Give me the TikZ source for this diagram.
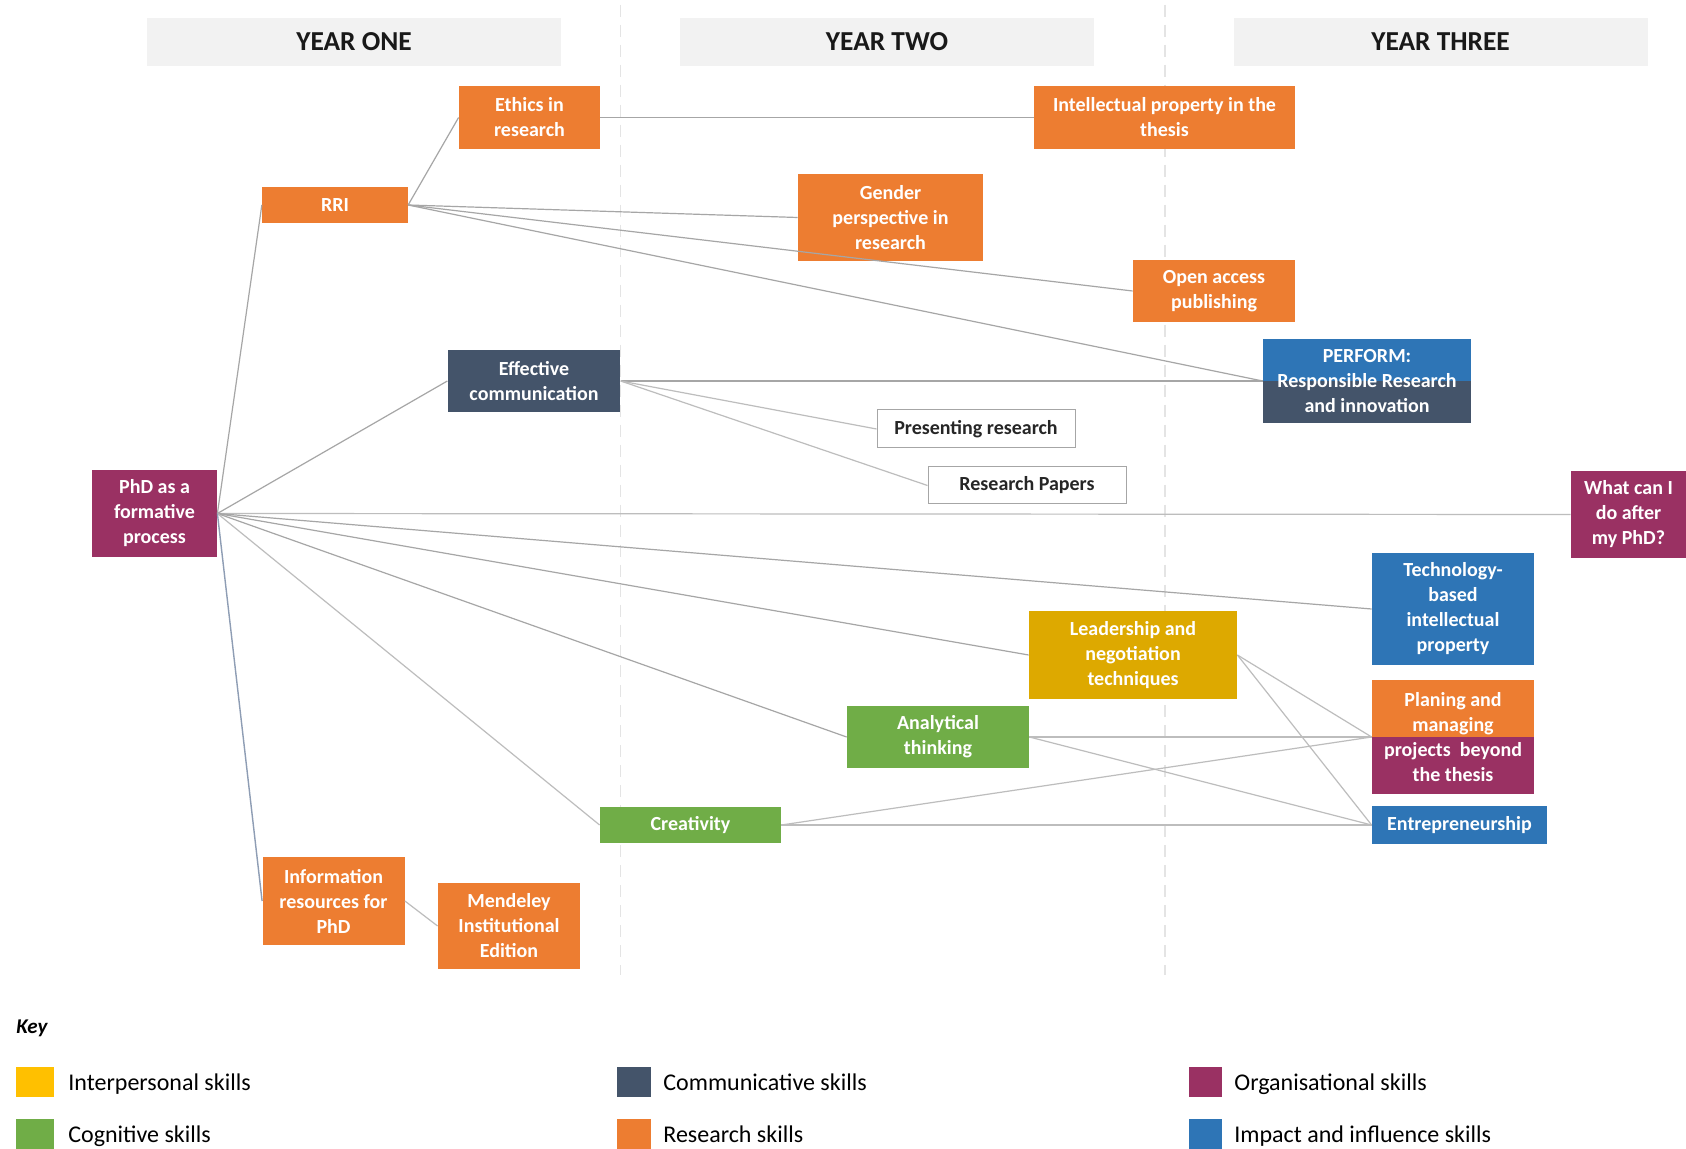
\documentclass[tikz,border=0pt]{standalone}
\usepackage{fontspec}
\setmainfont{Carlito}
\definecolor{orng}{HTML}{ED7D31}
\definecolor{slate}{HTML}{44546A}
\definecolor{plum}{HTML}{9A3163}
\definecolor{perfblue}{HTML}{2E75B6}
\definecolor{grn}{HTML}{70AD47}
\definecolor{gold}{HTML}{DDA900}
\definecolor{legyellow}{HTML}{FFC000}
\definecolor{hdrgray}{HTML}{F2F2F2}
\definecolor{linkgray}{HTML}{A6A6A6}
\definecolor{lightlink}{HTML}{BDBDBD}
\definecolor{bluelink}{HTML}{8E9DB4}
\definecolor{divgray}{HTML}{E4E4E4}
\begin{document}
\begin{tikzpicture}[x=0.5pt,y=-0.5pt,
  sz/.style n args={2}{minimum width=#1pt, minimum height=#2pt},
  box/.style={draw=none, inner sep=0pt, align=center, text=white,
    font=\bfseries\fontsize{10}{12.5}\selectfont},
  whitebox/.style={fill=white, draw=gray!70, line width=0.5pt, text=black!85},
  splitbox/.style 2 args={fill=#2, path picture={\fill[#1] (path picture bounding box.north west) rectangle (path picture bounding box.east);}},
  hdr/.style={fill=hdrgray, inner sep=0pt, minimum width=207pt, minimum height=24pt,
    font=\bfseries\fontsize{13.7}{16}\selectfont, text=black!90},
  link/.style={draw=linkgray, line width=0.6pt},
  lightl/.style={draw=lightlink, line width=0.6pt},
  divider/.style={draw=divgray, line width=0.7pt, dash pattern=on 6pt off 4pt},
  legsq/.style={inner sep=0pt, draw=none},
  legtxt/.style={anchor=base west, inner sep=0pt, font=\fontsize{12}{14}\selectfont, text=black}
]
\useasboundingbox (0,0) rectangle (1686,1149);
\fill[white] (0,0) rectangle (1686,1149);

% column dividers
\draw[divider] (620.5,5) -- (620.5,975);
\draw[divider] (1165,5) -- (1165,975);

% headers
\node[hdr] (h1) at (354,42) {YEAR ONE};
\node[hdr] (h2) at (887,42) {YEAR TWO};
\node[hdr] (h3) at (1440.5,42) {YEAR THREE};

% nodes
\node[box, fill=orng, sz={70.5}{31.5}] (ethics) at (529.5,117.5) {Ethics in\\research};
\node[box, fill=orng, sz={130.5}{31.5}] (ip) at (1164.5,117.5) {Intellectual property in the\\thesis};
\node[box, fill=orng, sz={72.75}{18}] (rri) at (335,205) {RRI};
\node[box, fill=orng, sz={92.5}{43.5}] (gender) at (890.5,217.5) {Gender\\perspective in\\research};
\node[box, fill=orng, sz={81}{31}] (oa) at (1214,291) {Open access\\publishing};
\node[box, splitbox={perfblue}{slate}, sz={104}{42}] (perform) at (1367,381) {PERFORM:\\Responsible Research\\and innovation};
\node[box, fill=slate, sz={86.25}{31}] (ec) at (534,381) {Effective\\communication};
\node[box, whitebox, sz={99}{19}] (pres) at (976,429) {Presenting research};
\node[box, whitebox, sz={99}{18.5}] (rp) at (1027,485.5) {Research Papers};
\node[box, fill=plum, sz={62.5}{43.5}] (phd) at (154.5,513.5) {PhD as a\\formative\\process};
\node[box, fill=plum, sz={57.5}{43.5}] (what) at (1628.5,514.5) {What can I\\do after\\my PhD?};
\node[box, fill=perfblue, sz={81}{56}] (tech) at (1453,609) {Technology-\\based\\intellectual\\property};
\node[box, fill=gold, sz={104}{44}] (lead) at (1133,655) {Leadership and\\negotiation\\techniques};
\node[box, splitbox={orng}{plum}, sz={81}{57}] (plan) at (1453,737) {Planing and\\managing\\projects\ \ beyond\\the thesis};
\node[box, fill=grn, sz={91}{31}] (anal) at (938,737) {Analytical\\thinking};
\node[box, fill=grn, sz={90.5}{18}] (crea) at (690.5,825) {Creativity};
\node[box, fill=perfblue, sz={87.5}{19}] (entre) at (1459.5,825) {Entrepreneurship};
\node[box, fill=orng, sz={71}{44}] (info) at (333.5,901) {Information\\resources for\\PhD};
\node[box, fill=orng, sz={71}{43}] (mend) at (509,926) {Mendeley\\Institutional\\Edition};

% connectors
\draw[link] (rri.east) -- (ethics.west);
\draw[link] (ethics.east) -- (ip.west);
\draw[link] (rri.east) -- (gender.west);
\draw[link] (rri.east) -- (oa.west);
\draw[link] (rri.east) -- (perform.west);
\draw[link] (phd.east) -- (rri.west);
\draw[link] (phd.east) -- (ec.west);
\draw[link] (ec.east) -- (perform.west);
\draw[lightl] (ec.east) -- (pres.west);
\draw[lightl] (ec.east) -- (rp.west);
\draw[lightl] (phd.east) -- (what.west);
\draw[link] (phd.east) -- (tech.west);
\draw[link] (phd.east) -- (lead.west);
\draw[link] (phd.east) -- (anal.west);
\draw[lightl] (phd.east) -- (crea.west);
\draw[draw=bluelink, line width=0.7pt] (phd.east) -- (info.west);
\draw[lightl] (info.east) -- (mend.west);
\draw[lightl] (lead.east) -- (plan.west);
\draw[lightl] (lead.east) -- (entre.west);
\draw[lightl] (anal.east) -- (plan.west);
\draw[lightl] (anal.east) -- (entre.west);
\draw[lightl] (crea.east) -- (plan.west);
\draw[lightl] (crea.east) -- (entre.west);

% key
\node[anchor=base west, inner sep=0pt, font=\bfseries\itshape\fontsize{10.5}{12}\selectfont] (key) at (16,1033) {Key};
\node[legsq, fill=legyellow, sz={19}{15}] (k1) at (35,1082) {};
\node[legsq, fill=grn, sz={19}{15}] (k2) at (35,1134) {};
\node[legsq, fill=slate, sz={17}{15}] (k3) at (634,1082) {};
\node[legsq, fill=orng, sz={17}{15}] (k4) at (634,1134) {};
\node[legsq, fill=plum, sz={16.5}{15}] (k5) at (1205.5,1082) {};
\node[legsq, fill=perfblue, sz={16.5}{15}] (k6) at (1205.5,1134) {};
\node[legtxt] (t1) at (68,1090) {Interpersonal skills};
\node[legtxt] (t2) at (68,1142) {Cognitive skills};
\node[legtxt] (t3) at (663,1090) {Communicative skills};
\node[legtxt] (t4) at (663,1142) {Research skills};
\node[legtxt] (t5) at (1234,1090) {Organisational skills};
\node[legtxt] (t6) at (1234,1142) {Impact and influence skills};
\end{tikzpicture}
\end{document}
